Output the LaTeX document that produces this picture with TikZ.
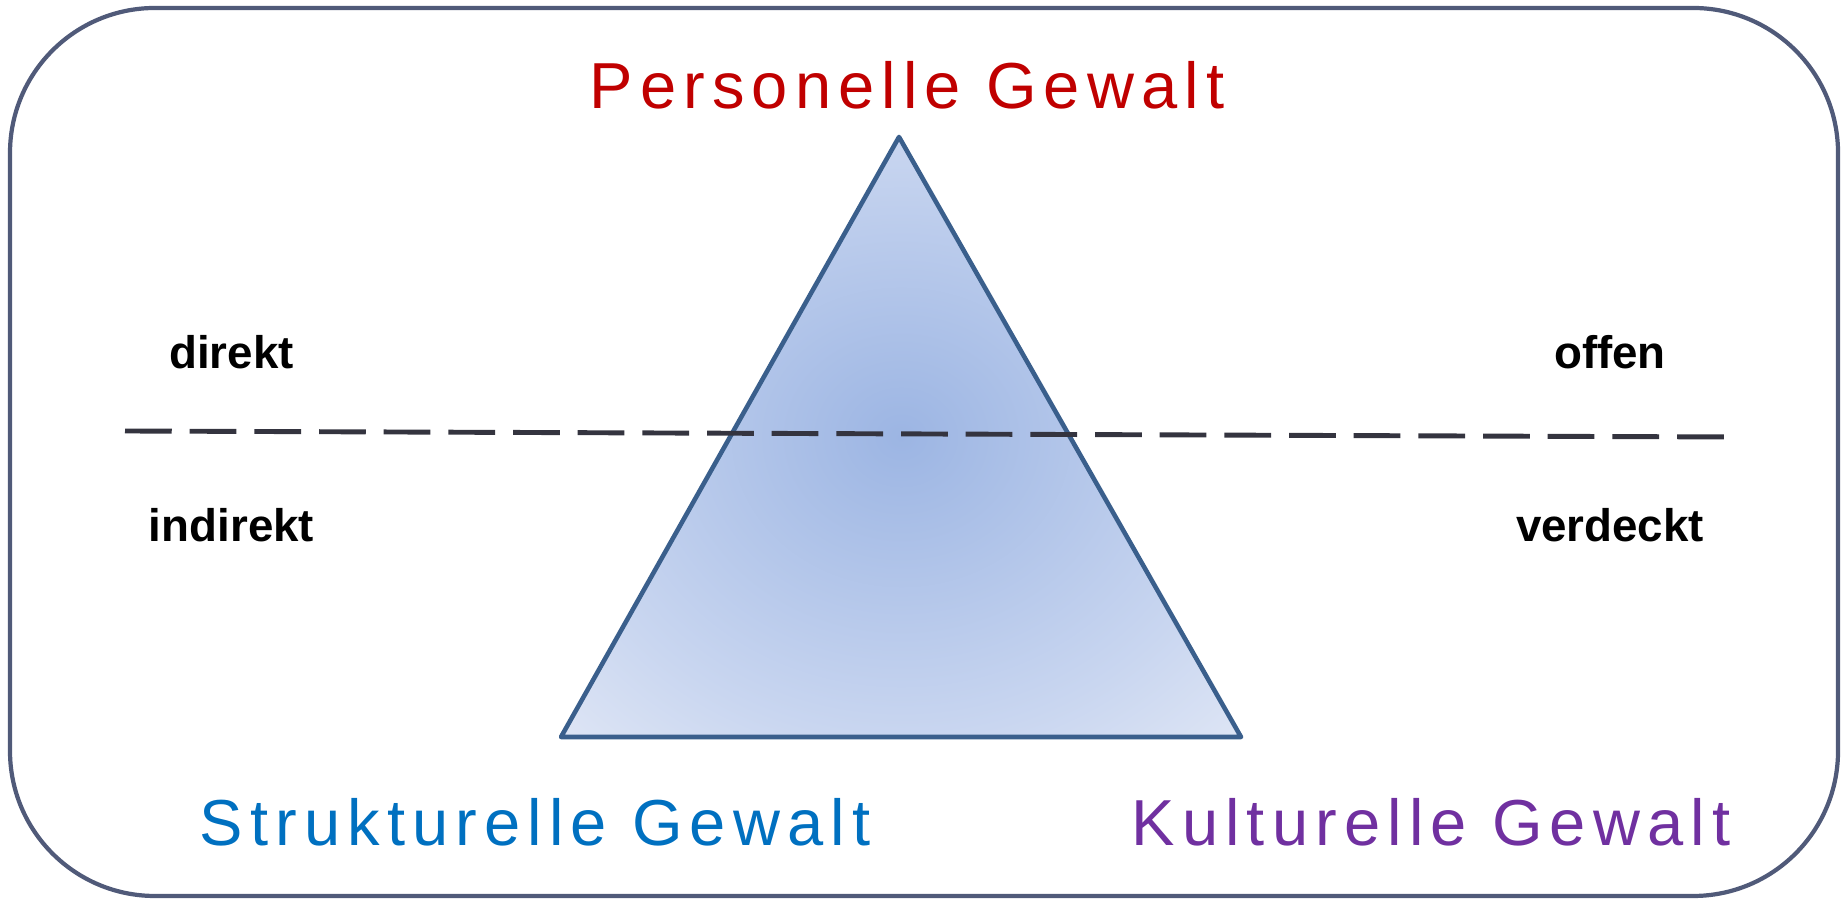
\documentclass[tikz,border=0pt]{standalone}
\usepackage{fontspec}
\setmainfont{Liberation Sans}
\newfontfamily\gewaltfont[LetterSpace=11]{Liberation Sans}
\usetikzlibrary{positioning}

\definecolor{rahmen}{HTML}{505A79}
\definecolor{kante}{HTML}{3A5F8C}
\definecolor{strich}{HTML}{34343F}
\definecolor{personell}{HTML}{C00000}
\definecolor{strukturell}{HTML}{0070C0}
\definecolor{kulturell}{HTML}{7030A0}
\definecolor{triin}{HTML}{9CB5E3}
\definecolor{trimid}{HTML}{C9D6F0}
\definecolor{triout}{HTML}{DFE6F5}
\pgfdeclareradialshading{dreieck}{\pgfpointorigin}{%
  color(0bp)=(triin); color(25bp)=(trimid); color(36bp)=(triout); color(50bp)=(triout)}

\tikzset{
  gewalt/.style={font=\gewaltfont\fontsize{18.5}{22}\selectfont, anchor=base, inner sep=0pt},
  seite/.style={font=\bfseries\fontsize{13}{15}\selectfont, inner sep=0pt},
  trenner/.style={strich, line width=1.4pt, dash pattern=on 13.3pt off 5.1pt}
}

\begin{document}
\begin{tikzpicture}[on grid]
  \useasboundingbox (0,0) rectangle (18.43,8.99);
  \draw[rahmen, line width=1.2pt, rounded corners=1.45cm] (0.10,0.03) rectangle (18.38,8.91);

  % Dreieck
  \coordinate (spitze) at (8.99,7.62);
  \coordinate (links)  at (5.61,1.62);
  \coordinate (rechts) at (12.41,1.62);
  \draw[kante, line width=1.3pt, line join=round, shading=dreieck]
    (spitze) -- (rechts) -- (links) -- cycle;

  % Trennlinie
  \coordinate (strich-a) at (1.25,4.68);
  \coordinate (strich-b) at (17.30,4.62);
  \draw[trenner] (strich-a) -- (strich-b);

  \node[gewalt, personell]   (personell)   at (9.07,7.90) {Personelle Gewalt};
  \node[gewalt, strukturell] (strukturell) at (5.35,0.53) {Strukturelle Gewalt};
  \node[gewalt, kulturell]   (kulturell)   at (14.31,0.53) {Kulturelle Gewalt};

  \node[seite] (direkt) at (2.315,5.47) {direkt};
  \node[seite] (indirekt) [below=1.73cm of direkt] {indirekt};
  \node[seite] (offen) at (16.10,5.47) {offen};
  \node[seite] (verdeckt) [below=1.73cm of offen] {verdeckt};
\end{tikzpicture}
\end{document}
